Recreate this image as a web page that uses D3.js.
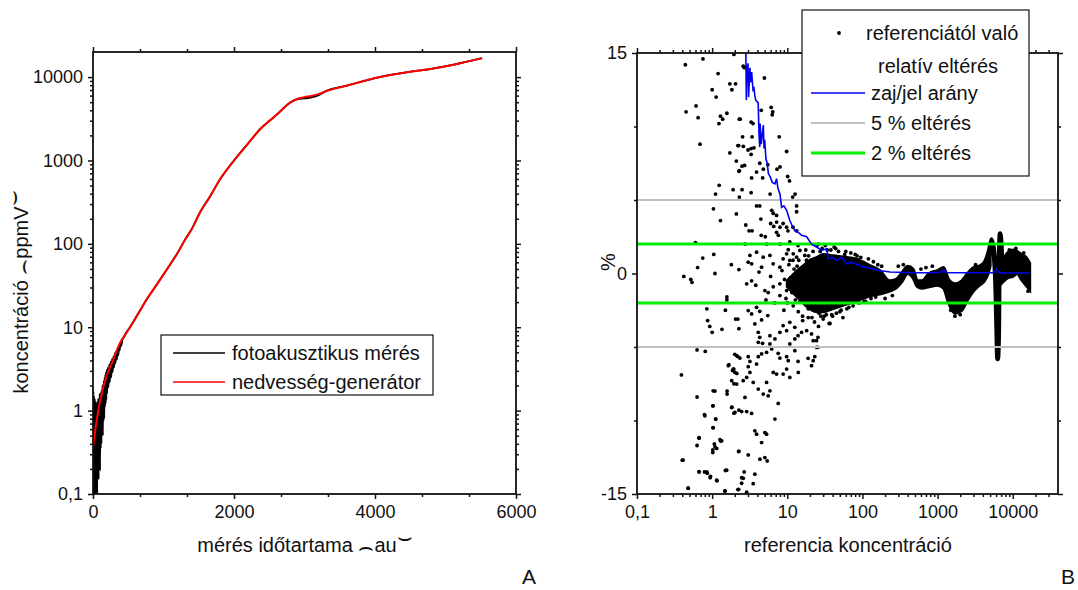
<!DOCTYPE html>
<html>
<head>
<meta charset="utf-8">
<script src="https://cdn.jsdelivr.net/npm/d3@7"></script>
<style>
body { margin: 0; background: #fff; }
svg text { font-family: "Liberation Sans", Arial, sans-serif; fill: #111; }
</style>
</head>
<body>
<div id="canvas"></div>
<script>
// ---------- panel A : concentration vs. measurement time ----------
let genTime  = [0, 40, 75, 130, 194, 288, 383, 460, 525, 650, 761, 900, 1045, 1200, 1300, 1400, 1517, 1660, 1800, 2000, 2200, 2370, 2600, 2790, 2900, 3000, 3100, 3200, 3290, 3600, 4070, 4500, 4780, 5100, 5520]
let genValue = [0.36, 0.65, 1.0, 1.7, 2.6, 4.1, 6.5, 8.2, 10, 15, 21.5, 32, 49, 78, 110, 150, 238, 370, 590, 1000, 1600, 2370, 3500, 4900, 5500, 5750, 5950, 6250, 6700, 7900, 10000, 11600, 12500, 14000, 16900]

let measTime  = [0, 5, 10, 15, 20, 25, 30, 35, 40, 45, 50, 55, 60, 65, 70, 75, 80, 85, 90, 95, 100, 105, 110, 115, 120, 125, 130, 135, 140, 145, 150, 155, 160, 165, 170, 175, 180, 185, 190, 195, 200, 210, 220, 230, 240, 250, 260, 270, 280, 290, 300, 310, 320, 330, 340, 350, 360, 370, 380, 390, 400, 420, 440, 460, 525, 650, 761, 900, 1045, 1200, 1300, 1400, 1517, 1660, 1800, 2000, 2200, 2370, 2600, 2790, 2900, 3000, 3100, 3200, 3290, 3600, 4070, 4500, 4780, 5100, 5520]
let measValue = [0.25, 1.7, 0.09, 1.5, 0.09, 1.4, 0.15, 1.3, 0.09, 1.25, 0.2, 1.2, 0.09, 1.3, 0.25, 1.4, 0.15, 1.35, 0.3, 1.6, 0.19, 1.6, 0.35, 1.7, 0.4, 1.8, 0.6, 2.0, 0.5, 2.1, 0.75, 2.3, 0.8, 2.5, 1.1, 2.7, 1.2, 2.9, 1.35, 3.1, 1.6, 3.3, 1.9, 3.6, 2.2, 3.9, 2.5, 4.2, 2.9, 4.5, 3.3, 4.9, 3.7, 5.2, 4.1, 5.6, 4.6, 6.0, 5.3, 6.6, 6.0, 7.2, 7.6, 8.3, 10, 15, 21.5, 32, 49, 78, 110, 150, 238, 370, 590, 1000, 1600, 2370, 3500, 4900, 5450, 5550, 5700, 6050, 6700, 7900, 10000, 11600, 12500, 14000, 16900]

let leftYTicks = [0.1, 1, 10, 100, 1000, 10000]
let leftXTicks = [0, 2000, 4000, 6000]
let leftXMinor = [666.7, 1333.3, 2666.7, 3333.3, 4666.7, 5333.3]

// ---------- panel B : relative deviation vs. reference ----------
// single scattered points [reference, deviation %]
let devPoints = [
 [0.44,14.2],[0.755,14.6],[1.2,13.6],[1.72,12.9],[2.05,12.9],[1.0,12.5],[1.13,12.0],[1.83,12.5],[0.61,11.4],[0.45,11.0],
 [0.65,10.6],[1.29,10.7],[1.38,10.5],[1.57,10.9],[1.23,10.2],[2.3,10.5],[0.69,8.8],[2.2,8.7],[1.72,8.2],[2.1,7.65],
 [2.27,6.95],[1.24,6.0],[1.11,5.4],[1.9,5.7],[1.04,4.4],[2.1,4.05],[1.29,3.6],[0.6,2.1],[1.05,1.3],[0.75,1.05],
 [0.64,0.4],[1.8,0.6],[2.27,0.27],[1.09,0.0],[0.42,-0.2],[0.52,-0.4],[0.54,-0.6],[1.57,-1.6],[1.57,-1.8],[1.5,-2.5],
 [0.85,-2.4],[0.87,-3.2],[0.93,-3.6],[1.0,-4.0],[1.35,-3.8],[2.05,-3.1],[2.2,-3.1],[2.27,-3.75],[0.63,-5.2],[0.81,-5.3],
 [2.0,-5.5],[2.2,-5.65],[1.67,-6.2],[1.87,-6.6],[1.94,-6.5],[2.13,-6.8],[0.39,-6.9],[1.95,-7.5],[1.09,-8.0],[0.63,-8.4],
 [1.58,-8.0],[1.58,-8.2],[1.83,-9.1],[0.79,-9.6],[1.03,-9.0],[1.95,-9.5],[1.11,-9.9],[1.03,-10.5],[2.27,-9.3],[0.67,-11.2],
 [0.63,-11.7],[1.27,-11.3],[1.3,-11.4],[1.07,-11.6],[1.15,-11.9],[1.02,-12.0],[2.27,-12.1],[0.4,-12.7],[0.67,-13.5],[0.79,-13.5],
 [0.85,-13.5],[0.95,-13.8],[1.16,-14.1],[1.5,-13.4],[0.48,-14.6],[1.48,-14.8],[2.2,-14.7],[1.95,14.9],
 [2.59,14.1],[2.68,14.0],[4.96,13.3],[2.36,10.5],[4.5,11.1],[6.1,11.3],[6.4,11.0],[6.3,10.8],[3.3,10.3],[3.5,10.2],
 [2.54,9.3],[3.4,9.3],[7.8,9.3],[2.25,8.7],[2.6,8.65],[3.0,8.4],[3.3,8.5],[3.6,8.55],[3.3,8.1],[9.8,8.3],
 [2.5,7.3],[2.7,7.35],[4.3,7.5],[5.5,7.4],[2.3,7.0],[3.9,6.9],[4.8,7.1],[3.35,6.5],[4.7,6.5],[7.3,7.1],
 [8.0,7.25],[10.1,6.6],[10.7,6.3],[2.5,5.7],[3.3,5.5],[2.3,5.2],[5.9,5.4],[12.7,5.4],[11.8,5.2],[3.9,4.6],
 [4.3,4.6],[6.2,4.3],[6.5,4.1],[7.2,3.95],[13.3,4.6],[13.3,4.2],[4.45,3.7],[6.0,3.4],[6.6,3.2],[7.2,3.5],
 [2.8,3.3],[3.1,2.9],[3.4,2.9],[8.0,3.15],[8.8,3.4],[9.8,3.15],[10.2,2.9],[11.9,3.15],[13.3,2.9],[4.5,2.6],
 [5.1,2.5],[7.2,2.8],[7.6,2.6],[5.3,2.0],[8.0,2.0],[10.8,2.15],[13.9,1.9],[2.75,2.0],
 [3.18,1.23],[3.9,1.45],[3.02,0.77],[3.35,0.66],[4.78,1.11],[5.87,1.23],[4.55,0.43],[6.49,0.66],[7.97,0.43],[9.8,1.34],
 [8.8,1.0],[10.8,0.89],[13.3,1.11],[10.3,1.62],[12.0,1.34],[14.7,1.57],[17.1,1.23],
 [2.88,-0.7],[3.35,-0.5],[3.8,-0.8],[5.03,-1.16],[5.57,-1.3],[6.5,-0.9],[7.97,-0.7],[9.8,-1.16],[12.6,-1.1],[13.9,-1.5],
 [7.97,-1.5],[11,-0.3],[4.2,0.1],[6.0,-0.2],[8.5,0.2],[15,-0.8],[17,-1.9],[19,-2.4],[16,-2.9],[20,0.4],
 [18,0.9],[22,1.5],[12,-2.2],[14,-2.6],[10,-2.0],[9,-2.5],[6.8,-2.0],[5.2,-1.8],
 [3.02,-2.52],[3.35,-2.75],[3.9,-2.3],[4.3,-2.57],[3.7,-3.43],[4.55,-3.16],[4.11,-4.0],[4.3,-4.34],[4.11,-4.68],[4.69,-4.75],
 [5.5,-2.86],[5.87,-4.23],[6.85,-4.45],[5.87,-4.79],[7.97,-4.0],[8.8,-3.54],[9.8,-3.89],[10.8,-3.32],[12.6,-3.66],[13.9,-4.23],
 [10.8,-4.79],[12.6,-4.45],[15.5,-4.0],[18.1,-3.89],[21.0,-4.11],[22.1,-4.57],[24.5,-4.57],[25.6,-4.34],[24.5,-5.02],
 [2.12,-5.59],[2.34,-5.75],[3.02,-5.66],[3.18,-5.98],[3.02,-6.34],[3.9,-6.16],[4.11,-5.66],[4.55,-5.47],[5.3,-5.36],[6.2,-5.13],
 [7.56,-5.43],[7.97,-5.75],[9.8,-5.66],[10.3,-5.93],[13.9,-5.98],[12.6,-5.25],[18.9,-5.77],[22.1,-5.93],[21.0,-6.27],[23.2,-5.66],
 [25.6,-5.02],[1.64,-6.27],[1.91,-6.5],[2.01,-6.73],[1.82,-7.29],[2.12,-7.52],[2.59,-7.29],[2.88,-7.07],[3.18,-6.73],[3.52,-7.41],
 [4.11,-7.86],[4.78,-8.2],[5.3,-7.41],[5.87,-7.98],[5.57,-8.32],[6.5,-6.73],[7.2,-6.84],[8.8,-6.84],[9.8,-6.5],[10.8,-7.07],
 [14.0,-6.73],[2.73,-8.43],[1.82,-9.11],[2.01,-9.45],[2.47,-9.39],[2.88,-9.39],[3.35,-9.52],[3.7,-10.7],[3.9,-10.93],[4.55,-11.5],
 [5.03,-10.82],[5.3,-10.93],[6.84,-9.9],[7.57,-8.84],[1.03,-7.98],[1.02,-9.0],[1.12,-9.9],[0.80,-9.68],[1.03,-10.48],[0.67,-11.16],
 [1.09,-11.79],[1.34,-11.38],[1.02,-12.18],[0.41,-12.7],[2.25,-12.11],[3.02,-12.34],[4.32,-12.63],[5.03,-12.52],[5.4,-12.75],[1.56,-13.38],
 [0.67,-13.48],[0.86,-13.59],[0.94,-13.89],[1.15,-14.06],[2.47,-13.89],[2.67,-13.5],[2.59,-13.93],[2.47,-14.27],[3.52,-14.3],[3.7,-13.65],
 [0.48,-14.61],[1.48,-14.79],[2.25,-14.68],[2.88,-14.88],
 [16,-3.2],[19,-3.0],[23,-3.3],[26,-3.6],[28,-2.9],[30,-3.1],[33,-2.8],[36,-3.4],[40,-2.9],[45,-2.7],
 [50,-2.6],[55,-3.0],[29,1.7],[32,1.9],[38,1.6],[26,2.0],[42,1.8],[48,1.5],[60,1.5],[70,1.4],
 [85,1.2],[62,-2.4],[75,-2.2],[90,-2.0],[110,-1.9],[130,-1.7],[150,-1.6],[120,1.0],[140,0.8],[180,0.5],
 [200,-1.7],[250,-1.5],[37,-3.4],[1700,-2.9],[2000,-2.8],[1500,-2.5],
 [9.2,-0.4],[10.5,0.6],[11.5,-1.3],[12.3,0.3],[13.1,-0.6],[14.2,0.9],[14.8,-1.9],[15.8,0.2],[16.5,-1.2],[17.6,1.6],
 [18.4,-0.3],[19.2,1.2],[20.5,-1.6],[21.3,-3.0],[22.8,0.8],[23.6,-2.2],[24.8,1.9],[26.5,-2.7],[27.4,1.5],[31,-2.9],
 [34,1.6],[39,-2.8],[44,1.7],[52,-2.5],[58,1.3],[66,-2.3],[80,1.3],[95,1.1],[105,-1.9],[160,0.6],
 [300,0.5],[350,0.6],[600,0.3],[700,0.4],[850,0.5],[3200,0.6],[11000,1.7],[9000,1.6],[14000,1.4],[16000,-1.2],
 [9.6,-1.7],[10.9,-0.9],[11.9,0.9],[12.8,-1.8],[13.5,0.5]
]

// dense part of the cloud: lower and upper edge
let band1X  = [10, 13, 17, 20, 25, 30, 40, 60, 80, 100, 130, 170, 230, 280, 330, 400, 470, 540, 620, 770, 1000, 1200, 1400, 1700, 2100, 2500, 3000, 3600, 4200, 4700, 5000]
let band1Lo = [-0.9, -1.5, -2.1, -2.4, -2.6, -2.6, -2.4, -2.1, -1.9, -1.7, -1.5, -1.4, -1.2, -1.0, -0.6, 0.0, -0.3, -0.9, -1.0, -0.9, -0.8, -1.0, -2.0, -2.7, -2.5, -1.8, -1.2, -0.8, -0.5, 0.0, 0.5]
let band1Hi = [-0.5, 0.1, 0.6, 0.9, 1.1, 1.3, 1.2, 1.1, 1.0, 0.8, 0.5, 0.2, -0.5, -0.4, 0.0, 0.5, 0.3, -0.5, -0.5, 0.0, 0.2, 0.4, -0.4, -0.7, -0.5, 0.0, 0.4, 0.5, 0.8, 1.5, 2.1]
let band2X  = [7300, 8500, 10000, 11500, 13000, 15000, 16800]
let band2Lo = [-0.6, -0.3, -0.2, 0.0, -0.4, -0.8, -1.1]
let band2Hi = [0.8, 1.4, 1.6, 1.5, 1.3, 1.1, 0.7]
// oscillation around 6000
let swingX = [5000, 5200, 5500, 5800, 6000, 6150, 6300, 6450, 6550, 6650, 6800, 7000, 7200, 7400]
let swingY = [1.3, 2.3, 1.8, 0.5, -1.5, -4.0, -5.8, -4.5, -1.0, 1.5, 2.7, 2.0, 0.5, -0.3]

// noise / signal ratio
let noiseX = [2.8, 2.85, 2.9, 2.95, 3.0, 3.05, 3.18, 3.25, 3.35, 3.5, 3.6, 3.7, 3.8, 4.1, 4.2, 4.3, 4.35, 4.5, 4.8, 4.9, 5.0, 5.2, 5.4, 5.6, 5.9, 6.3, 6.85, 7.2, 7.5, 8.0, 8.4, 9.0, 9.8, 10.8, 11.5, 12.6, 14, 15.5, 18.1, 21, 24.5, 28.6, 33.4, 35, 40, 45, 53, 61.5, 71.5, 92, 102, 130, 169, 232, 300, 464, 800, 1100, 1200, 1300, 1500, 3000, 5500, 6100, 6500, 8000, 12000, 16800]
let noiseY = [15.5, 11.8, 14.2, 13.0, 14.3, 12.0, 14.0, 13.0, 13.7, 12.5, 12.6, 12.1, 11.8, 11.6, 9.5, 8.6, 10.2, 8.8, 10.1, 8.5, 9.1, 7.8, 7.5, 6.8, 6.6, 6.2, 6.1, 6.45, 5.8, 5.4, 4.5, 4.6, 4.3, 3.6, 3.3, 2.9, 2.8, 2.6, 2.5, 2.0, 1.8, 1.57, 1.68, 1.0, 1.1, 0.89, 1.1, 0.66, 0.77, 0.55, 0.45, 0.35, 0.2, 0.1, 0.08, 0.05, 0.05, 0.08, 0.25, 0.07, 0.05, 0.05, 0.06, 0.32, 0.05, 0.03, 0.03, 0.03]

let limit5 = [5, -5]
let limit2 = [2, -2]
let rightXTicks = [0.1, 1, 10, 100, 1000, 10000]
let rightYTicks = [-15, 0, 15]
let rightYMinor = [-10, -5, 5, 10]

// ---------- setup ----------
let width = 1078
let height = 590
let svg = d3.select("#canvas").append("svg")
    .attr("width", width)
    .attr("height", height)

let fmt = d => d < 1 ? String(d).replace(".", ",") : String(d)

function logMinor(lo, hi) {
    let out = []
    for (let e = Math.floor(Math.log10(lo)); e <= Math.ceil(Math.log10(hi)); e++) {
        for (let m = 2; m <= 9; m++) {
            let v = m * Math.pow(10, e)
            if (v > lo && v < hi) out.push(v)
        }
    }
    return out
}

// frame with ticks on all four sides, labels only bottom & left
function drawFrame(g, x, y, xMajor, xMinor, yMajor, yMinor, xFmt, yFmt) {
    let [x0, x1] = x.range()
    let [y1, y0] = y.range()
    let sides = [
        [d3.axisBottom(x), y1, xMajor, xMinor, xFmt],
        [d3.axisTop(x), y0, xMajor, xMinor, null],
        [d3.axisLeft(y), x0, yMajor, yMinor, yFmt],
        [d3.axisRight(y), x1, yMajor, yMinor, null]
    ]
    sides.forEach(([ax, pos, major, minor, f], i) => {
        let vertical = i >= 2
        let tr = vertical ? `translate(${pos},0)` : `translate(0,${pos})`
        g.append("g").attr("transform", tr)
            .call(ax.tickValues(minor).tickSize(3).tickFormat(""))
            .call(s => s.select(".domain").remove())
        let a = g.append("g").attr("transform", tr)
            .call(ax.tickValues(major).tickSize(5).tickPadding(vertical ? 5 : 6).tickFormat(f ? f : ""))
        a.select(".domain").remove()
        a.selectAll("text").attr("font-size", 18).attr("fill", "#111")
    })
    g.selectAll(".tick line").attr("stroke", "#111").attr("stroke-width", 1.5)
    g.append("rect")
        .attr("x", x0).attr("y", y0)
        .attr("width", x1 - x0).attr("height", y1 - y0)
        .attr("fill", "none").attr("stroke", "#111").attr("stroke-width", 1.8)
}

// axis title with the arc-shaped brackets
function arcTitle(sel, main, unit) {
    sel.append("tspan").text(main + " ")
    sel.append("tspan").attr("font-size", 24).attr("dy", 3).text("⌢")
    sel.append("tspan").attr("dy", -3).text(unit)
    sel.append("tspan").attr("font-size", 24).attr("dy", -7).text("⌣")
}

// ---------- panel A ----------
let xA = d3.scaleLinear().domain([0, 6000]).range([93, 516])
let yA = d3.scaleLog().domain([0.1, 20000]).range([494, 52])

let gA = svg.append("g")
svg.append("clipPath").attr("id", "clipA").append("rect")
    .attr("x", 93).attr("y", 52).attr("width", 423).attr("height", 442)

let lineA = d3.line()
    .x(d => xA(d[0]))
    .y(d => yA(Math.max(d[1], 0.05)))
    .curve(d3.curveMonotoneX)

gA.append("path")
    .datum(measTime.map((t, i) => [t, measValue[i]]))
    .attr("clip-path", "url(#clipA)")
    .attr("d", lineA)
    .attr("fill", "none")
    .attr("stroke", "#000")
    .attr("stroke-width", 1.8)

gA.append("path")
    .datum(genTime.map((t, i) => [t, genValue[i]]))
    .attr("clip-path", "url(#clipA)")
    .attr("d", lineA)
    .attr("fill", "none")
    .attr("stroke", "#ff0000")
    .attr("stroke-width", 2)

drawFrame(gA, xA, yA, leftXTicks, leftXMinor, leftYTicks, logMinor(0.1, 20000), d3.format("d"), fmt)

// legend A
let legA = svg.append("g")
legA.append("rect").attr("x", 161).attr("y", 335).attr("width", 272).attr("height", 60)
    .attr("fill", "#fff").attr("stroke", "#111").attr("stroke-width", 1.2)
let legAItems = [["fotoakusztikus mérés", "#000"], ["nedvesség-generátor", "#ff0000"]]
legAItems.forEach(([label, col], i) => {
    let yy = 353 + i * 29
    legA.append("line").attr("x1", 173).attr("x2", 225).attr("y1", yy).attr("y2", yy)
        .attr("stroke", col).attr("stroke-width", 1.6)
    legA.append("text").attr("x", 232).attr("y", yy + 7).attr("font-size", 20).text(label)
})

// titles A
svg.append("text").attr("transform", "translate(28,292) rotate(-90)")
    .attr("text-anchor", "middle").attr("font-size", 20)
    .call(arcTitle, "koncentráció", "ppmV")
svg.append("text").attr("x", 305).attr("y", 552)
    .attr("text-anchor", "middle").attr("font-size", 20)
    .call(arcTitle, "mérés időtartama", "au")
svg.append("text").attr("x", 522).attr("y", 584).attr("font-size", 21).text("A")

// ---------- panel B ----------
let xB = d3.scaleLog().domain([0.1, 40000]).range([637, 1058])
let yB = d3.scaleLinear().domain([-15, 15]).range([494, 53])

svg.append("clipPath").attr("id", "clipB").append("rect")
    .attr("x", 637).attr("y", 53).attr("width", 421).attr("height", 441)
let gB = svg.append("g")
let plotB = gB.append("g").attr("clip-path", "url(#clipB)")

plotB.append("g").selectAll("circle")
    .data(devPoints)
    .enter().append("circle")
    .attr("cx", d => xB(d[0]))
    .attr("cy", d => yB(d[1]))
    .attr("r", 1.9)
    .attr("fill", "#000")

let bandArea = d3.area()
    .x(d => xB(d[0]))
    .y0(d => yB(d[1]))
    .y1(d => yB(d[2]))
    .curve(d3.curveMonotoneX)
plotB.append("path")
    .datum(band1X.map((v, i) => [v, band1Lo[i], band1Hi[i]]))
    .attr("d", bandArea).attr("fill", "#000").attr("stroke", "#000").attr("stroke-width", 3)
plotB.append("path")
    .datum(band2X.map((v, i) => [v, band2Lo[i], band2Hi[i]]))
    .attr("d", bandArea).attr("fill", "#000").attr("stroke", "#000").attr("stroke-width", 3)
plotB.append("path")
    .datum(swingX.map((v, i) => [v, swingY[i]]))
    .attr("d", d3.line().x(d => xB(d[0])).y(d => yB(d[1])).curve(d3.curveCatmullRom))
    .attr("fill", "none").attr("stroke", "#000").attr("stroke-width", 5)
    .attr("stroke-linecap", "round")

limit5.forEach(v => {
    plotB.append("line").attr("x1", 637).attr("x2", 1058)
        .attr("y1", yB(v)).attr("y2", yB(v))
        .attr("stroke", "#c0c0c0").attr("stroke-width", 2)
})
limit2.forEach(v => {
    plotB.append("line").attr("x1", 637).attr("x2", 1058)
        .attr("y1", yB(v)).attr("y2", yB(v))
        .attr("stroke", "#00ee00").attr("stroke-width", 3)
})

plotB.append("path")
    .datum(noiseX.map((v, i) => [v, noiseY[i]]))
    .attr("d", d3.line().x(d => xB(d[0])).y(d => yB(d[1])))
    .attr("fill", "none").attr("stroke", "#0000ee").attr("stroke-width", 1.6)

drawFrame(gB, xB, yB, rightXTicks, logMinor(0.1, 40000), rightYTicks, rightYMinor, fmt, d => String(d))

// legend B
let legB = svg.append("g")
legB.append("rect").attr("x", 802).attr("y", 10).attr("width", 227).attr("height", 166)
    .attr("fill", "#fff").attr("stroke", "#111").attr("stroke-width", 1.2)
legB.append("circle").attr("cx", 839).attr("cy", 33).attr("r", 1.9).attr("fill", "#000")
legB.append("text").attr("x", 866).attr("y", 40).attr("font-size", 20).text("referenciától való")
legB.append("text").attr("x", 878).attr("y", 73).attr("font-size", 20).text("relatív eltérés")
let legBItems = [["zaj/jel arány", "#0000ee", 1.6], ["5 % eltérés", "#c0c0c0", 2], ["2 % eltérés", "#00ee00", 3]]
legBItems.forEach(([label, col, w], i) => {
    let yy = 93 + i * 30
    legB.append("line").attr("x1", 811).attr("x2", 865).attr("y1", yy).attr("y2", yy)
        .attr("stroke", col).attr("stroke-width", w)
    legB.append("text").attr("x", 871).attr("y", yy + 7).attr("font-size", 20).text(label)
})

// titles B
svg.append("text").attr("transform", "translate(615,262) rotate(-90)")
    .attr("text-anchor", "middle").attr("font-size", 20).text("%")
svg.append("text").attr("x", 848).attr("y", 552)
    .attr("text-anchor", "middle").attr("font-size", 20)
    .text("referencia koncentráció")
svg.append("text").attr("x", 1061).attr("y", 584).attr("font-size", 21).text("B")
</script>
</body>
</html>
